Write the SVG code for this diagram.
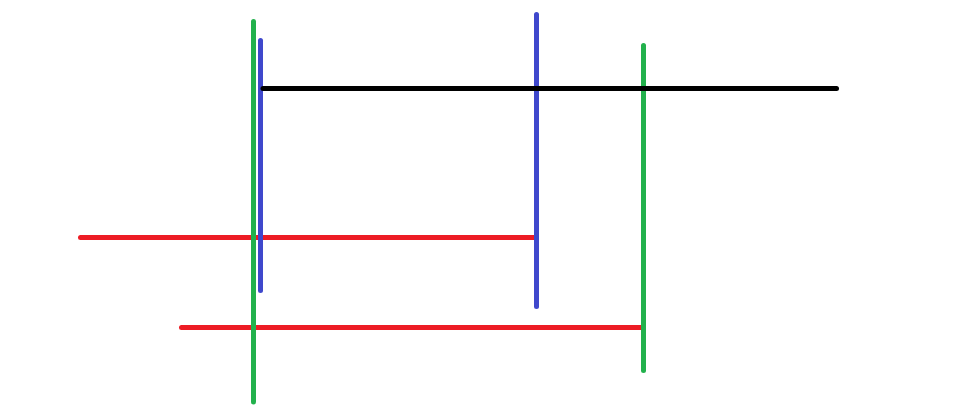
<svg xmlns="http://www.w3.org/2000/svg" width="966" height="406" viewBox="0 0 966 406">
<style>
line{stroke-width:5;stroke-linecap:round;fill:none}
.r{stroke:#ed1c24}.b{stroke:#3f48cc}.g{stroke:#22b14c}.k{stroke:#000}
</style>
<rect width="966" height="406" fill="#fff"/>
<g id="lines">
<line class="r" x1="80.5" y1="237.5" x2="534" y2="237.5"/>
<line class="r" x1="181.5" y1="327.5" x2="641" y2="327.5"/>
<line class="b" x1="260.5" y1="40.5" x2="260.5" y2="290.5"/>
<line class="b" x1="536.5" y1="14.5" x2="536.5" y2="306.5"/>
<line class="g" x1="253.5" y1="21.5" x2="253.5" y2="402"/>
<line class="g" x1="643.5" y1="45.5" x2="643.5" y2="370.5"/>
<line class="k" x1="263" y1="88.5" x2="836.5" y2="88.5" stroke-linecap="butt"/>
</g>
</svg>
